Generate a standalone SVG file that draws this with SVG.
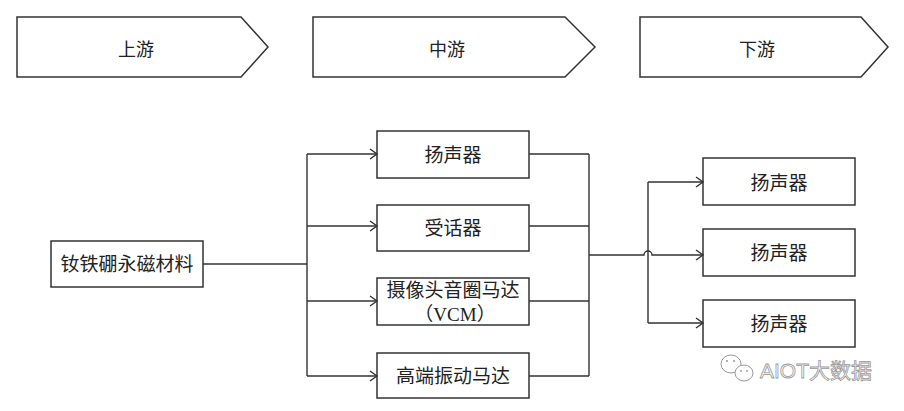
<svg xmlns="http://www.w3.org/2000/svg" width="904" height="411" viewBox="0 0 904 411">
<style>
.shape{fill:#fff;stroke:#333;stroke-width:1.5}
.ln{fill:none;stroke:#333;stroke-width:1.4}
.t{font-family:"Liberation Serif","Noto Sans CJK SC",serif;font-size:19px;fill:#222;text-anchor:middle;dominant-baseline:central}
.h{font-family:"Noto Sans CJK SC",sans-serif;font-size:18px;fill:#222;text-anchor:middle;dominant-baseline:central}
.wm{font-family:"Liberation Sans","Noto Sans CJK SC",sans-serif;font-size:21px;fill:#fff;stroke:#999;stroke-width:0.8;text-anchor:start;dominant-baseline:central}
</style>
<defs>
<marker id="arr" markerWidth="10" markerHeight="12" refX="8" refY="6" orient="auto" markerUnits="userSpaceOnUse">
<polyline points="1,1 8,6 1,11" fill="none" stroke="#333" stroke-width="1.4"/>
</marker>
</defs>
<g id="stage-up"><polygon class="shape" points="17,17 241,17 268,47 241,77 17,77"/><text class="h" x="136" y="48">上游</text></g>
<g id="stage-mid"><polygon class="shape" points="313,17 565,17 595,47 565,77 313,77"/><text class="h" x="447" y="48">中游</text></g>
<g id="stage-down"><polygon class="shape" points="640,17 861,17 888,47 861,77 640,77"/><text class="h" x="757" y="48">下游</text></g>
<g id="ndfeb"><rect class="shape" x="51" y="241" width="152" height="46"/><text class="t" x="127" y="264">钕铁硼永磁材料</text></g>
<g id="mid-speaker"><rect class="shape" x="377" y="131" width="152" height="47"/><text class="t" x="453" y="155">扬声器</text></g>
<g id="mid-receiver"><rect class="shape" x="377" y="205" width="152" height="46"/><text class="t" x="453" y="228">受话器</text></g>
<g id="mid-vcm"><rect class="shape" x="377" y="278" width="152" height="47"/><text class="t" x="453" y="290">摄像头音圈马达</text><text class="t" x="455" y="314">（VCM）</text></g>
<g id="mid-motor"><rect class="shape" x="377" y="353" width="152" height="45"/><text class="t" x="453" y="376">高端振动马达</text></g>
<g id="down-1"><rect class="shape" x="703" y="158" width="152" height="47"/><text class="t" x="779" y="183">扬声器</text></g>
<g id="down-2"><rect class="shape" x="703" y="229" width="152" height="47"/><text class="t" x="779" y="253">扬声器</text></g>
<g id="down-3"><rect class="shape" x="703" y="300" width="152" height="47"/><text class="t" x="779" y="324">扬声器</text></g>
<g id="connectors">
<path class="ln" d="M203 264 H307"/>
<path class="ln" d="M307 154 V376"/>
<path class="ln" d="M307 154 H377" marker-end="url(#arr)"/>
<path class="ln" d="M307 226 H377" marker-end="url(#arr)"/>
<path class="ln" d="M307 301 H377" marker-end="url(#arr)"/>
<path class="ln" d="M307 376 H377" marker-end="url(#arr)"/>
<path class="ln" d="M529 154 H589 M529 226 H589 M529 301 H589 M529 376 H589 M589 154 V376"/>
<path class="ln" d="M589 255 H644 A4 4 0 0 1 652 255 H703" marker-end="url(#arr)"/>
<path class="ln" d="M648 182 V323"/>
<path class="ln" d="M648 182 H703" marker-end="url(#arr)"/>
<path class="ln" d="M648 323 H703" marker-end="url(#arr)"/>
</g>
<g id="watermark">
<ellipse cx="731" cy="364" rx="10" ry="9" fill="#fff" stroke="#999" stroke-width="1"/>
<ellipse cx="744" cy="373" rx="9" ry="8" fill="#fff" stroke="#999" stroke-width="1"/>
<circle cx="727" cy="361" r="1" fill="#999"/><circle cx="734" cy="361" r="1" fill="#999"/>
<circle cx="741" cy="371" r="0.9" fill="#999"/><circle cx="747" cy="371" r="0.9" fill="#999"/>
<text class="wm" x="760" y="370">AIOT大数据</text>
</g>
</svg>
